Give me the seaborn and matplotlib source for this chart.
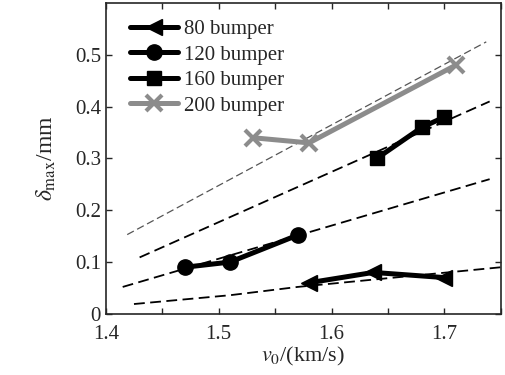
import matplotlib
matplotlib.use("Agg")
import matplotlib.pyplot as plt
import seaborn as sns
import pandas as pd
from matplotlib.ticker import MultipleLocator

# measured points
v_80 = [1.58, 1.637, 1.70]
d_80 = [0.060, 0.080, 0.070]
v_120 = [1.47, 1.51, 1.57]
d_120 = [0.090, 0.100, 0.152]
v_160 = [1.64, 1.68, 1.70]
d_160 = [0.300, 0.360, 0.380]
v_200 = [1.53, 1.58, 1.71]
d_200 = [0.340, 0.330, 0.480]

# dashed trend lines
fit_80_v = [1.425, 1.51, 1.57, 1.75]
fit_80_d = [0.019, 0.036, 0.052, 0.090]
fit_120_v = [1.415, 1.74]
fit_120_d = [0.052, 0.260]
fit_160_v = [1.43, 1.74]
fit_160_d = [0.109, 0.410]
fit_200_v = [1.419, 1.737]
fit_200_d = [0.153, 0.525]

sns.set_style("ticks")
plt.rcParams["font.family"] = ["Liberation Serif", "DejaVu Serif"]
plt.rcParams["mathtext.fontset"] = "stix"

fig = plt.figure(figsize=(5.06, 3.75), dpi=100)
ax = fig.add_axes([0.209, 0.163, 0.781, 0.829])

# trend lines first, behind the data
for fv, fd, col, lw in [
    (fit_80_v, fit_80_d, "black", 1.3),
    (fit_120_v, fit_120_d, "black", 1.3),
    (fit_160_v, fit_160_d, "black", 1.3),
    (fit_200_v, fit_200_d, "#555555", 0.9),
]:
    ax.plot(fv, fd, ls=(0, (6, 3)), color=col, lw=lw, zorder=1)

series = [
    ("80 bumper", v_80, d_80, "<", "black", 11, 1),
    ("120 bumper", v_120, d_120, "o", "black", 11, 1),
    ("160 bumper", v_160, d_160, "s", "black", 10, 1),
    ("200 bumper", v_200, d_200, "x", "#8c8c8c", 11, 3),
]
for name, v, d, mk, col, ms, mew in series:
    df = pd.DataFrame({"v": v, "d": d})
    sns.lineplot(data=df, x="v", y="d", ax=ax, color=col, lw=3.6,
                 marker=mk, markersize=ms, markeredgecolor=col,
                 markeredgewidth=mew, label=name, zorder=3, sort=False)

ax.set_xlim(1.4, 1.75)
ax.set_ylim(0, 0.6)
ax.xaxis.set_major_locator(MultipleLocator(0.1))
ax.xaxis.set_minor_locator(MultipleLocator(0.05))
ax.set_xticks([1.4, 1.5, 1.6, 1.7])
ax.set_xticklabels(["1.4", "1.5", "1.6", "1.7"])
ax.set_yticks([0, 0.1, 0.2, 0.3, 0.4, 0.5])
ax.set_yticklabels(["0", "0.1", "0.2", "0.3", "0.4", "0.5"])
ax.tick_params(which="both", direction="in", top=True, right=True,
               labelsize=15, length=4, width=1)
ax.tick_params(axis="x", pad=8)
ax.tick_params(which="minor", length=4)
for s in ax.spines.values():
    s.set_linewidth(1.2)

ax.set_xlabel(r"$v_0$/(km/s)", fontsize=16, labelpad=1)
ax.set_ylabel(r"$\delta_{\rm max}$/mm", fontsize=17, labelpad=12)

ax.legend(loc="upper left", frameon=False, fontsize=15, handlelength=2.3,
          borderaxespad=0.4, labelspacing=0.28, handletextpad=0.3,
          bbox_to_anchor=(0.02, 1.0))

fig.savefig("out.png", dpi=100)
